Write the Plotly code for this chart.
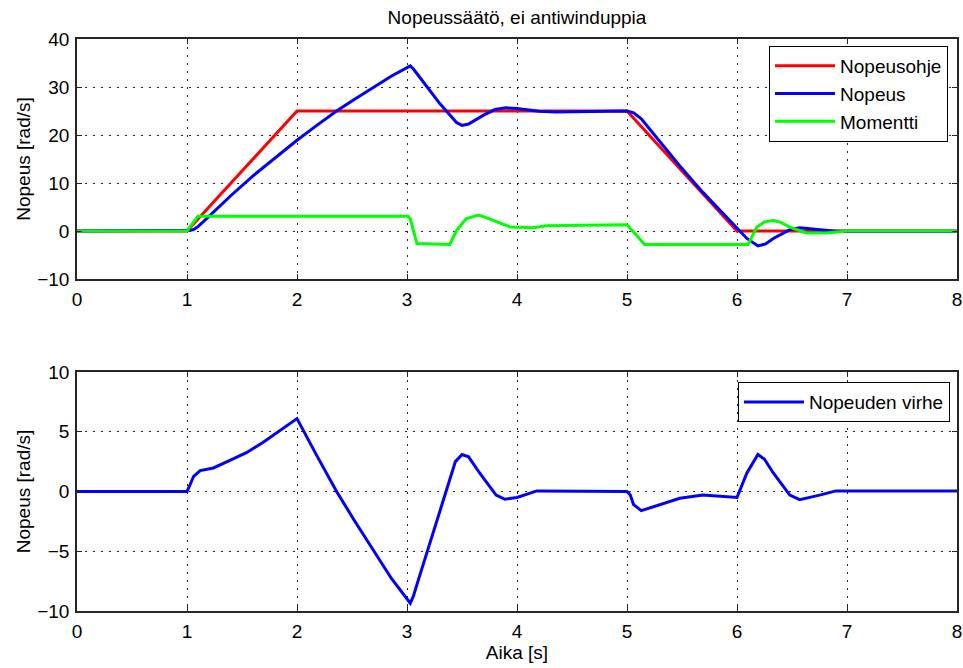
import plotly.graph_objects as go

# ---------------- data ----------------
x_ticks = [0, 1, 2, 3, 4, 5, 6, 7, 8]
y1_ticks = [-10, 0, 10, 20, 30, 40]
y2_ticks = [-10, -5, 0, 5, 10]

# Nopeusohje (speed reference)
t_ohje = [0, 1, 2, 5, 6, 8]
nopeusohje = [0, 0, 25, 25, 0, 0]

# Nopeus (measured speed)
t_nopeus = [0, 1.0, 1.03, 1.06, 1.1, 1.2, 1.4, 1.6, 1.8, 2.0, 2.18, 2.36, 2.52, 2.69,
            2.86, 3.03, 3.06, 3.1, 3.18, 3.3, 3.4, 3.45, 3.5, 3.56, 3.62, 3.7, 3.8,
            3.9, 4.0, 4.1, 4.2, 4.35, 4.5, 4.7, 5.0, 5.06, 5.13, 5.3, 5.48, 5.69,
            5.97, 6.0, 6.09, 6.19, 6.26, 6.33, 6.48, 6.57, 6.75, 6.9, 7.5, 8.0]
nopeus = [0, 0, 0.15, 0.3, 0.9, 3.05, 7.4, 11.5, 15.3, 18.9, 22.0, 25.0, 27.4, 29.9,
          32.3, 34.4, 33.7, 32.5, 30.1, 26.5, 23.9, 22.6, 22.0, 22.3, 23.1, 24.2, 25.3,
          25.65, 25.5, 25.2, 24.95, 24.8, 24.85, 25.0, 25.0, 24.6, 23.35, 18.6, 13.57, 8.05,
          1.2, 0.5, -1.55, -3.1, -2.7, -1.55, 0.3, 0.68, 0.3, -0.05, -0.05, -0.05]

# Momentti (torque)
t_momentti = [0, 1.0, 1.1, 3.01, 3.03, 3.06, 3.09, 3.39, 3.45, 3.54, 3.65, 3.72, 3.82,
              3.94, 4.15, 4.27, 4.6, 5.0, 5.06, 5.16, 6.1, 6.18, 6.25, 6.33, 6.4, 6.48,
              6.63, 6.81, 7.0, 8.0]
momentti = [0, 0, 3.1, 3.1, 2.5, 0.0, -2.6, -2.8, 0.1, 2.6, 3.3, 2.8, 1.9,
            0.85, 0.7, 1.1, 1.2, 1.3, -0.2, -2.8, -2.8, 0.8, 1.9, 2.2, 1.8, 0.8,
            -0.4, -0.4, 0, 0]

# Nopeuden virhe (speed error)
t_virhe = [0, 1.0, 1.02, 1.06, 1.12, 1.24, 1.39, 1.54, 1.69, 1.85, 2.0, 2.18, 2.36,
           2.52, 2.69, 2.86, 3.03, 3.06, 3.1, 3.18, 3.35, 3.44, 3.5, 3.56, 3.66, 3.81,
           3.89, 4.0, 4.18, 4.5, 5.0, 5.03, 5.06, 5.13, 5.3, 5.48, 5.69, 5.97, 6.0,
           6.09, 6.19, 6.25, 6.33, 6.48, 6.57, 6.75, 6.9, 7.5, 8.0]
virhe = [0, 0, 0.4, 1.27, 1.75, 1.97, 2.6, 3.25, 4.1, 5.1, 6.1, 3.0, 0,
         -2.4, -4.9, -7.3, -9.35, -8.7, -7.5, -5.1, 0, 2.5, 3.1, 2.9, 1.55, -0.3,
         -0.65, -0.5, 0.05, 0.05, 0.0, -0.3, -1.1, -1.6, -1.1, -0.57, -0.3, -0.45, -0.5,
         1.55, 3.1, 2.7, 1.55, -0.3, -0.68, -0.3, 0.05, 0.05, 0.05]

# ---------------- figure ----------------
FONT = "Liberation Sans, Arial, sans-serif"
FS = 19
LW = 3

fig = go.Figure()
fig.add_trace(go.Scatter(x=t_ohje, y=nopeusohje, mode="lines", name="Nopeusohje",
                         line=dict(color="#ff0000", width=LW), xaxis="x", yaxis="y",
                         legend="legend"))
fig.add_trace(go.Scatter(x=t_nopeus, y=nopeus, mode="lines", name="Nopeus",
                         line=dict(color="#0000ff", width=LW), xaxis="x", yaxis="y",
                         legend="legend"))
fig.add_trace(go.Scatter(x=t_momentti, y=momentti, mode="lines", name="Momentti",
                         line=dict(color="#00ff00", width=LW), xaxis="x", yaxis="y",
                         legend="legend"))
fig.add_trace(go.Scatter(x=t_virhe, y=virhe, mode="lines", name="Nopeuden virhe",
                         line=dict(color="#0000ff", width=LW), xaxis="x2", yaxis="y2",
                         legend="legend2"))

axis_style = dict(
    showline=True, linecolor="#262626", linewidth=1.5, mirror="allticks",
    ticks="inside", ticklen=5, tickcolor="#262626", tickwidth=1.2,
    showgrid=True, gridcolor="#222222", gridwidth=1, griddash="2px,6px",
    zeroline=False, tickfont=dict(family=FONT, size=FS, color="black"),
    automargin=False,
)

fig.update_layout(
    width=963, height=668,
    margin=dict(l=77, r=6, t=39, b=57),
    paper_bgcolor="white", plot_bgcolor="white",
    font=dict(family=FONT, size=FS, color="black"),
    title=dict(text="Nopeussäätö, ei antiwinduppia", x=0.5, xref="paper",
               y=1 - 17 / 668, yanchor="middle", xanchor="center",
               font=dict(family=FONT, size=FS, color="black")),
    xaxis=dict(domain=[0, 1], anchor="y", range=[0, 8], tickvals=x_ticks,
               ticklabelstandoff=2, **axis_style),
    yaxis=dict(domain=[0.5804, 1], anchor="x", range=[-10, 40], tickvals=y1_ticks,
               title=dict(text="Nopeus [rad/s]", standoff=2,
                          font=dict(family=FONT, size=FS, color="black")),
               ticklabelstandoff=2, **axis_style),
    xaxis2=dict(domain=[0, 1], anchor="y2", range=[0, 8], tickvals=x_ticks,
                title=dict(text="Aika [s]", standoff=4,
                           font=dict(family=FONT, size=FS, color="black")),
                ticklabelstandoff=2, **axis_style),
    yaxis2=dict(domain=[0, 0.4178], anchor="x2", range=[-10, 10], tickvals=y2_ticks,
                title=dict(text="Nopeus [rad/s]", standoff=2,
                           font=dict(family=FONT, size=FS, color="black")),
                ticklabelstandoff=2, **axis_style),
    legend=dict(x=0.9898, y=0.9878, xanchor="right", yanchor="top",
                bgcolor="white", bordercolor="black", borderwidth=1,
                font=dict(family=FONT, size=FS, color="black"), itemwidth=60,
                tracegroupgap=0),
    legend2=dict(x=0.992, y=0.4003, xanchor="right", yanchor="top",
                 bgcolor="white", bordercolor="black", borderwidth=1,
                 font=dict(family=FONT, size=FS, color="black"), itemwidth=60),
    showlegend=True,
)

fig.write_html("out.html")
